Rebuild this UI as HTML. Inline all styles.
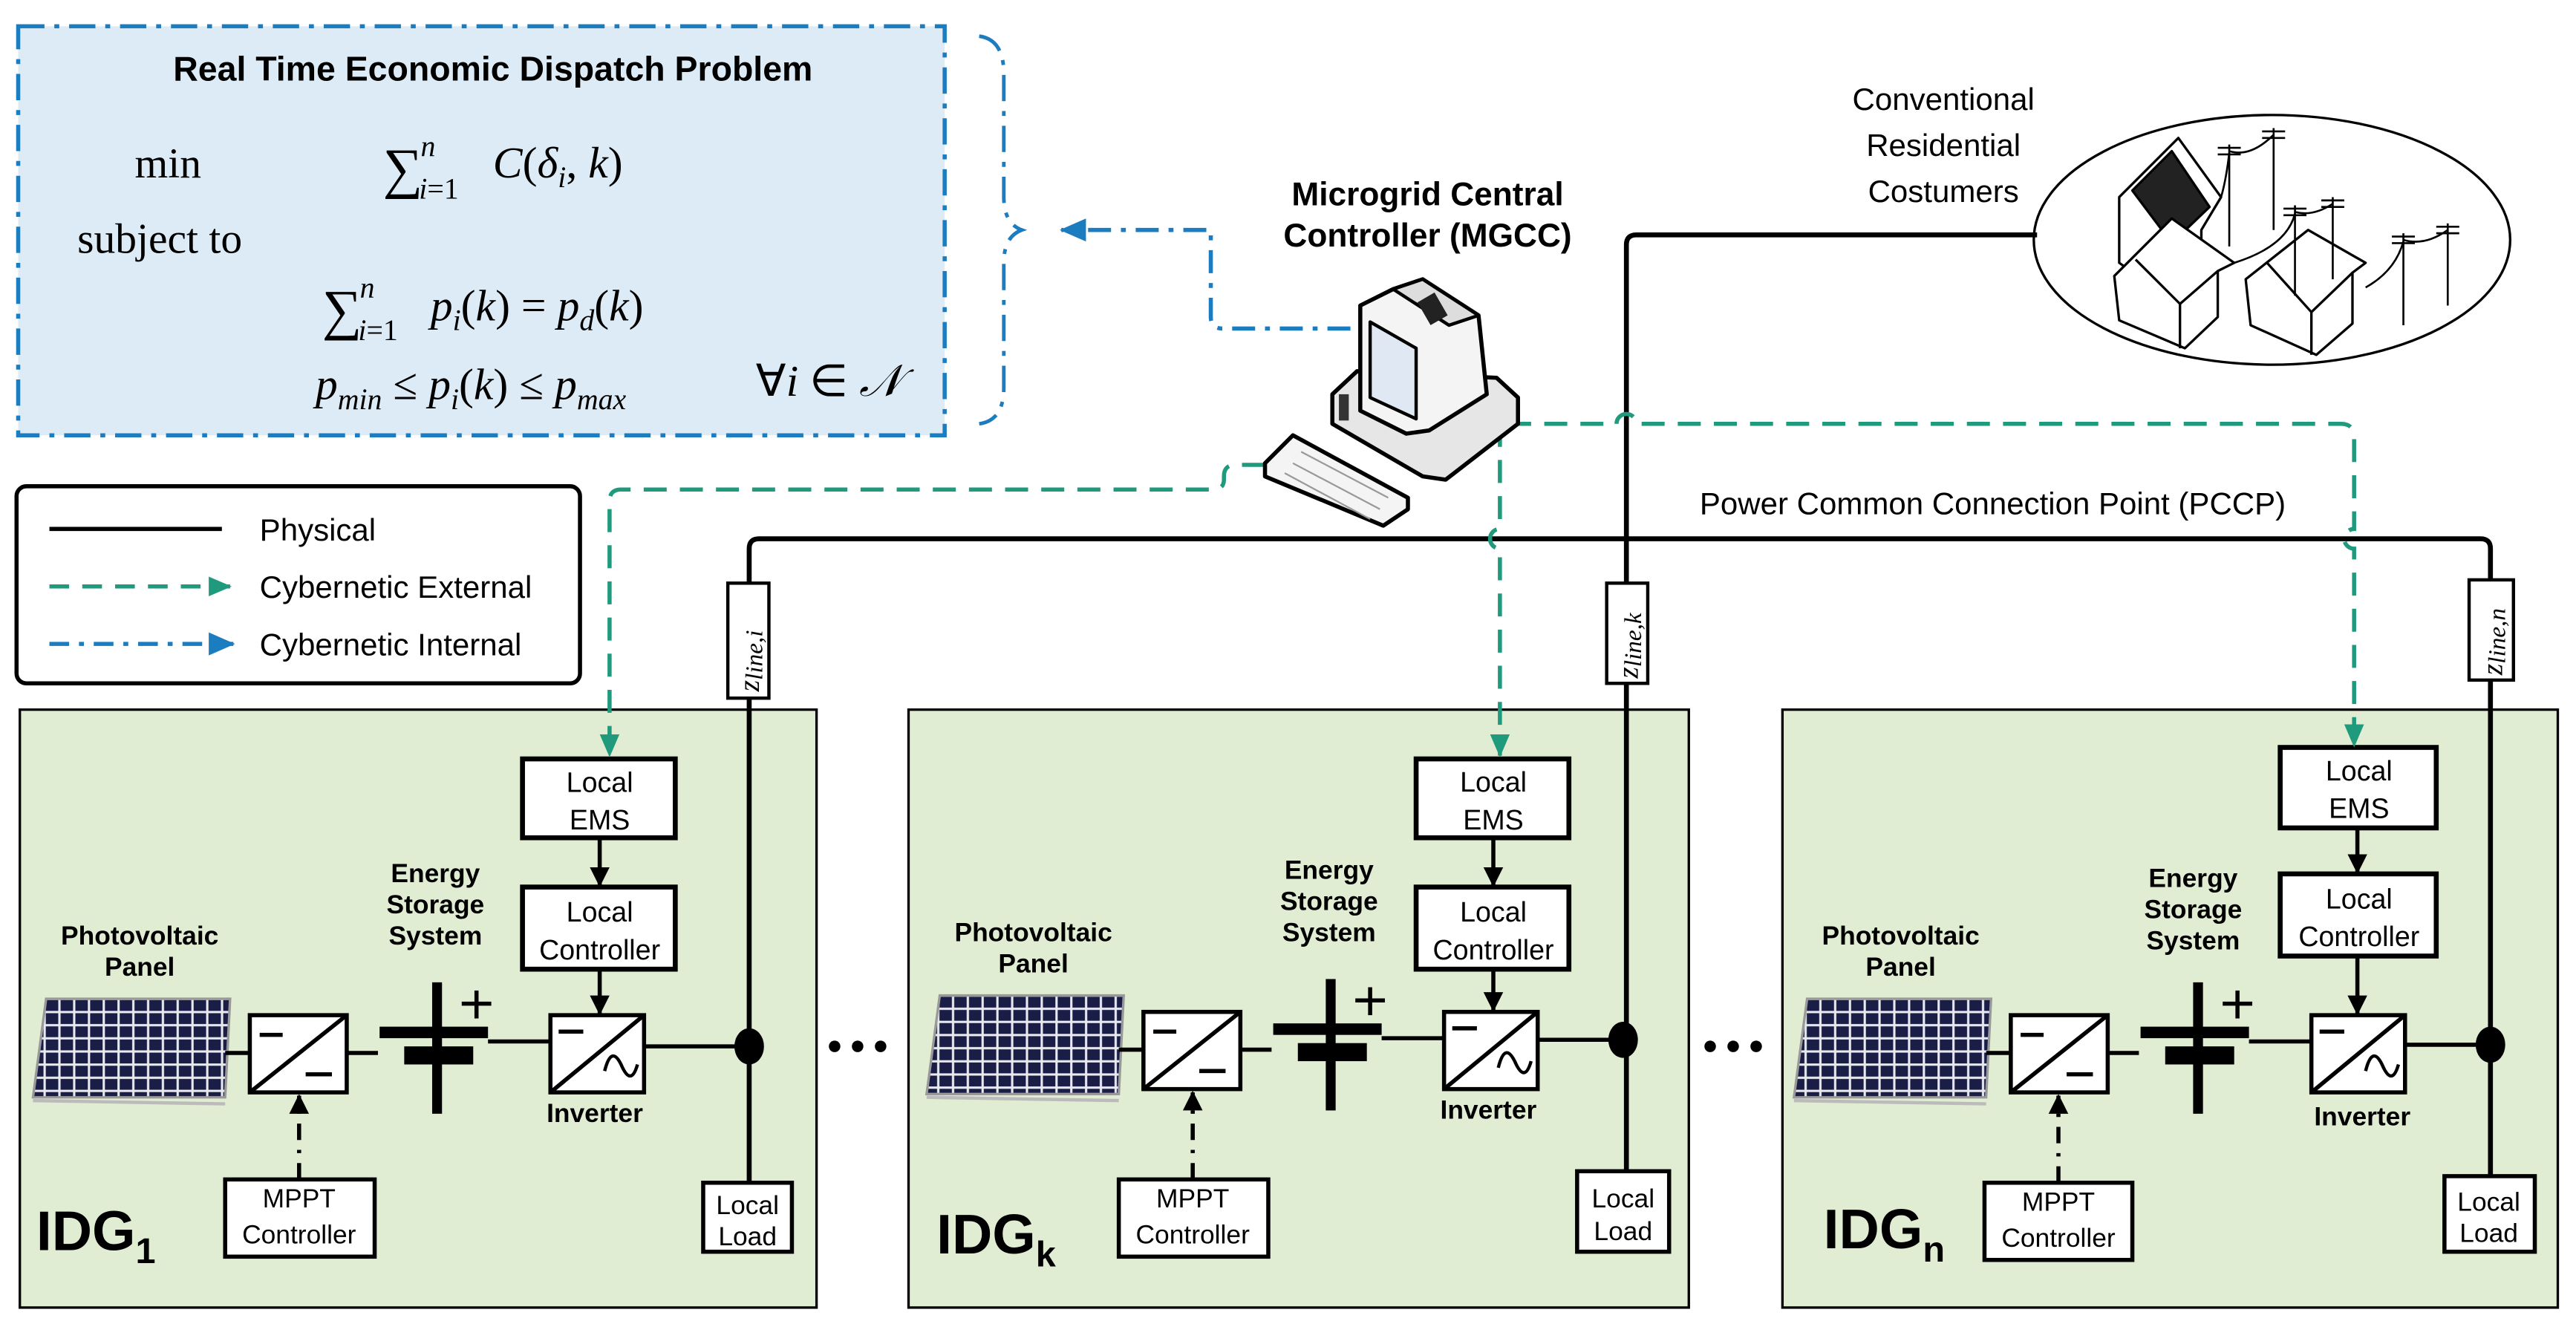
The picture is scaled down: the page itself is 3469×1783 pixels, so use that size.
<!DOCTYPE html>
<html><head><meta charset="utf-8"><style>
html,body{margin:0;padding:0;background:#fff;}
svg{display:block;}
.s{font-family:"Liberation Sans",sans-serif;}
.b{font-family:"Liberation Sans",sans-serif;font-weight:bold;}
.m{font-family:"Liberation Serif",serif;}
.i{font-style:italic;}
</style></head><body>
<svg width="3469" height="1783" viewBox="0 0 1568 806" xmlns="http://www.w3.org/2000/svg">
<defs>
<marker id="ga" markerWidth="14" markerHeight="14" refX="13" refY="7" orient="auto" markerUnits="userSpaceOnUse"><path d="M0,1 L14,7 L0,13 z" fill="#1f9a7c"/></marker>
<marker id="ba" markerWidth="16" markerHeight="14" refX="15" refY="7" orient="auto" markerUnits="userSpaceOnUse"><path d="M0,0 L16,7 L0,14 z" fill="#1b7cc0"/></marker>
<marker id="ka" markerWidth="12" markerHeight="14" refX="11" refY="6" orient="auto" markerUnits="userSpaceOnUse"><path d="M0,0 L12,6 L0,12 z" fill="#000"/></marker>
<pattern id="pv" width="9" height="8" patternUnits="userSpaceOnUse"><rect width="9" height="8" fill="#e8eaf0"/><rect x="0.8" y="0.8" width="7.6" height="6.6" fill="#1a1d45"/></pattern>
</defs>

<!-- Blue problem box -->
<rect x="11" y="16" width="564" height="249" fill="#ddebf6" stroke="#1b7cc0" stroke-width="2.5" stroke-dasharray="16,6,3,6"/>
<text x="300" y="49" class="b" font-size="21" text-anchor="middle">Real Time Economic Dispatch Problem</text>
<text x="82" y="108" class="m" font-size="26">min</text>
<text x="47" y="154" class="m" font-size="26">subject to</text>
<g class="m i">
<text x="233" y="114" font-size="34" font-style="normal">∑</text>
<text x="256" y="95" font-size="18">n</text>
<text x="255" y="121" font-size="18">i<tspan font-style="normal">=1</tspan></text>
<text x="300" y="108" font-size="27">C<tspan font-style="normal">(</tspan>δ<tspan font-size="18" dy="6">i</tspan><tspan dy="-6" font-style="normal">, </tspan>k<tspan font-style="normal">)</tspan></text>
<text x="196" y="200" font-size="34" font-style="normal">∑</text>
<text x="219" y="181" font-size="18">n</text>
<text x="218" y="207" font-size="18">i<tspan font-style="normal">=1</tspan></text>
<text x="262" y="195" font-size="27">p<tspan font-size="18" dy="6">i</tspan><tspan dy="-6" font-style="normal">(</tspan>k<tspan font-style="normal">) = </tspan>p<tspan font-size="18" dy="6">d</tspan><tspan dy="-6" font-style="normal">(</tspan>k<tspan font-style="normal">)</tspan></text>
<text x="192" y="243" font-size="27">p<tspan font-size="18" dy="6">min</tspan><tspan dy="-6" font-style="normal"> ≤ </tspan>p<tspan font-size="18" dy="6">i</tspan><tspan dy="-6" font-style="normal">(</tspan>k<tspan font-style="normal">) ≤ </tspan>p<tspan font-size="18" dy="6">max</tspan></text>
<text x="460" y="241" font-size="27" font-style="normal">∀<tspan font-style="italic">i</tspan> ∈ <tspan font-style="italic">𝒩</tspan></text>
</g>

<!-- Brace -->
<path d="M596,22 Q611,24 611,45 L611,120 Q611,136 622,140 Q611,144 611,160 L611,236 Q611,256 596,258" fill="none" stroke="#1b7cc0" stroke-width="2.2" stroke-dasharray="16,6,3,6"/>
<path d="M822,200 L744,200 Q737,200 737,193 L737,140 L646,140" fill="none" stroke="#1b7cc0" stroke-width="2.5" stroke-dasharray="14,6,3,6" marker-end="url(#ba)"/>

<!-- Legend -->
<rect x="10" y="296" width="343" height="120" rx="6" fill="#fff" stroke="#000" stroke-width="2.5"/>
<line x1="30" y1="322" x2="135" y2="322" stroke="#000" stroke-width="2.5"/>
<line x1="30" y1="357" x2="140" y2="357" stroke="#1f9a7c" stroke-width="2.5" stroke-dasharray="12,8" marker-end="url(#ga)"/>
<line x1="30" y1="392" x2="142" y2="392" stroke="#1b7cc0" stroke-width="2.5" stroke-dasharray="12,6,3,6" marker-end="url(#ba)"/>
<text x="158" y="329" class="s" font-size="19">Physical</text>
<text x="158" y="364" class="s" font-size="19">Cybernetic External</text>
<text x="158" y="399" class="s" font-size="19">Cybernetic Internal</text>

<!-- MGCC label -->
<text x="869" y="125" class="b" font-size="20" text-anchor="middle">Microgrid Central</text>
<text x="869" y="150" class="b" font-size="20" text-anchor="middle">Controller (MGCC)</text>

<!-- Houses -->
<text x="1183" y="67" class="s" font-size="19" text-anchor="middle">Conventional</text>
<text x="1183" y="95" class="s" font-size="19" text-anchor="middle">Residential</text>
<text x="1183" y="123" class="s" font-size="19" text-anchor="middle">Costumers</text>
<ellipse cx="1383" cy="146" rx="145" ry="76" fill="#fff" stroke="#000" stroke-width="1.5"/>
<g fill="#fff" stroke="#000" stroke-width="1.5" stroke-linejoin="round">
<polygon points="1290,120 1326,84 1352,120 1340,140 1340,170 1318,180 1290,160"/>
<line x1="1318" y1="130" x2="1318" y2="180"/>
<polygon points="1298,116 1322,92 1345,126 1322,148" fill="#222"/>
<polygon points="1287,168 1322,133 1360,160 1350,165 1350,193 1330,212 1290,195"/>
<polyline points="1300,158 1327,185 1350,165" fill="none"/>
<line x1="1327" y1="185" x2="1327" y2="212"/>
<polygon points="1367,170 1405,140 1440,160 1432,166 1432,197 1410,216 1370,198"/>
<polyline points="1380,160 1407,190 1432,166" fill="none"/>
<line x1="1407" y1="190" x2="1407" y2="216"/>
</g>
<g stroke="#000" stroke-width="1.2" fill="none">
<line x1="1357" y1="88" x2="1357" y2="150"/><line x1="1384" y1="78" x2="1384" y2="140"/>
<line x1="1350" y1="90" x2="1364" y2="90"/><line x1="1350" y1="94" x2="1364" y2="94"/>
<line x1="1377" y1="80" x2="1391" y2="80"/><line x1="1377" y1="84" x2="1391" y2="84"/>
<path d="M1357,92 Q1370,96 1384,82 M1357,93 Q1355,110 1352,120"/>
<line x1="1397" y1="125" x2="1397" y2="180"/><line x1="1420" y1="120" x2="1420" y2="170"/>
<line x1="1390" y1="127" x2="1404" y2="127"/><line x1="1390" y1="131" x2="1404" y2="131"/>
<line x1="1413" y1="122" x2="1427" y2="122"/><line x1="1413" y1="126" x2="1427" y2="126"/>
<path d="M1397,129 Q1408,132 1420,124 M1397,130 Q1392,150 1360,160"/>
<line x1="1463" y1="142" x2="1463" y2="198"/><line x1="1490" y1="136" x2="1490" y2="186"/>
<line x1="1456" y1="144" x2="1470" y2="144"/><line x1="1456" y1="148" x2="1470" y2="148"/>
<line x1="1483" y1="138" x2="1497" y2="138"/><line x1="1483" y1="142" x2="1497" y2="142"/>
<path d="M1463,146 Q1476,150 1490,140 M1463,147 Q1458,165 1440,175"/>
</g>

<!-- Physical main lines -->
<path d="M1240,143 L996,143 Q990,143 990,149 L990,355" fill="none" stroke="#000" stroke-width="3"/>
<path d="M456,355 L456,334 Q456,328 462,328 L1510,328 Q1516,328 1516,334 L1516,353" fill="none" stroke="#000" stroke-width="3"/>
<text x="1213" y="313" class="s" font-size="19" text-anchor="middle">Power Common Connection Point (PCCP)</text>

<!-- IDG green boxes -->
<rect x="12" y="432" width="485" height="364" fill="#e1edd3" stroke="#000" stroke-width="1.5"/>
<rect x="553" y="432" width="475" height="364" fill="#e1edd3" stroke="#000" stroke-width="1.5"/>
<rect x="1085" y="432" width="472" height="364" fill="#e1edd3" stroke="#000" stroke-width="1.5"/>

<!-- Zline boxes & buses -->
<g stroke="#000" stroke-width="3" fill="none">
<line x1="456" y1="425" x2="456" y2="720"/>
<line x1="990" y1="416" x2="990" y2="713"/>
<line x1="1516" y1="414" x2="1516" y2="716"/>
</g>
<g fill="#fff" stroke="#000" stroke-width="2">
<rect x="443" y="355" width="25" height="70"/>
<rect x="978" y="355" width="25" height="61"/>
<rect x="1503" y="353" width="27" height="61"/>
</g>
<g class="m i" font-size="18">
<text transform="translate(462,421) rotate(-90)">z<tspan font-size="15" dy="2">line,i</tspan></text>
<text transform="translate(997,413) rotate(-90)">z<tspan font-size="15" dy="2">line,k</tspan></text>
<text transform="translate(1523,411) rotate(-90)">z<tspan font-size="15" dy="2">line,n</tspan></text>
</g>

<!-- Nodes, loads -->
<g fill="#000"><ellipse cx="456" cy="637" rx="9" ry="11"/><ellipse cx="988" cy="633" rx="9" ry="11"/><ellipse cx="1516" cy="636" rx="9" ry="11"/></g>
<g fill="#fff" stroke="#000" stroke-width="2.5">
<rect x="428" y="720" width="54" height="42"/><rect x="960" y="713" width="56" height="49"/><rect x="1488" y="716" width="55" height="46"/>
</g>
<g class="s" font-size="16" text-anchor="middle">
<text x="455" y="739">Local</text><text x="455" y="758">Load</text>
<text x="988" y="735">Local</text><text x="988" y="755">Load</text>
<text x="1515" y="737">Local</text><text x="1515" y="756">Load</text>
</g>
<g stroke="#000" stroke-width="2.5">
<line x1="392" y1="637" x2="456" y2="637"/><line x1="936" y1="633" x2="988" y2="633"/><line x1="1464" y1="636" x2="1516" y2="636"/>
</g>
<g fill="#000"><circle cx="508" cy="637" r="3.5"/><circle cx="522" cy="637" r="3.5"/><circle cx="536" cy="637" r="3.5"/>
<circle cx="1041" cy="637" r="3.5"/><circle cx="1055" cy="637" r="3.5"/><circle cx="1069" cy="637" r="3.5"/></g>

<!-- IDG1 -->
<g>
<text x="85" y="575" class="b" font-size="16" text-anchor="middle">Photovoltaic</text>
<text x="85" y="594" class="b" font-size="16" text-anchor="middle">Panel</text>
<polygon points="28,608 140,608 137,668 20,668" fill="url(#pv)" stroke="#999" stroke-width="1.5"/>
<line x1="20" y1="670" x2="137" y2="672" stroke="#bbb" stroke-width="2"/>
<g stroke="#000" stroke-width="2.5" fill="none">
<line x1="137" y1="641" x2="152" y2="641"/><line x1="211" y1="641" x2="230" y2="641"/><line x1="297" y1="634" x2="335" y2="634"/>
<rect x="152" y="618" width="59" height="47" fill="#fff"/><line x1="152" y1="665" x2="211" y2="618"/>
<line x1="158" y1="630" x2="172" y2="630"/><line x1="186" y1="654" x2="202" y2="654"/>
<rect x="335" y="618" width="57" height="47" fill="#fff"/><line x1="335" y1="665" x2="392" y2="618"/>
<line x1="340" y1="628" x2="355" y2="628"/>
<path d="M368,652 Q372,636 378,648 Q384,662 388,648" stroke-width="2"/>
<line x1="290" y1="603" x2="290" y2="620"/><line x1="281" y1="611" x2="299" y2="611"/>
</g>
<rect x="263" y="598" width="6" height="80" fill="#000"/>
<rect x="231" y="625" width="66" height="7" fill="#000"/>
<rect x="246" y="637" width="42" height="11" fill="#000"/>
<text x="265" y="537" class="b" font-size="16" text-anchor="middle">Energy</text>
<text x="265" y="556" class="b" font-size="16" text-anchor="middle">Storage</text>
<text x="265" y="575" class="b" font-size="16" text-anchor="middle">System</text>
<text x="362" y="683" class="b" font-size="16" text-anchor="middle">Inverter</text>
<rect x="318" y="462" width="93" height="48" fill="#fff" stroke="#000" stroke-width="3"/>
<text x="365" y="482" class="s" font-size="17" text-anchor="middle">Local</text>
<text x="365" y="505" class="s" font-size="17" text-anchor="middle">EMS</text>
<rect x="318" y="540" width="93" height="50" fill="#fff" stroke="#000" stroke-width="3"/>
<text x="365" y="561" class="s" font-size="17" text-anchor="middle">Local</text>
<text x="365" y="584" class="s" font-size="17" text-anchor="middle">Controller</text>
<line x1="365" y1="510" x2="365" y2="539" stroke="#000" stroke-width="2.5" marker-end="url(#ka)"/>
<line x1="365" y1="590" x2="365" y2="617" stroke="#000" stroke-width="2.5" marker-end="url(#ka)"/>
<rect x="137" y="718" width="91" height="47" fill="#fff" stroke="#000" stroke-width="2.5"/>
<text x="182" y="735" class="s" font-size="16" text-anchor="middle">MPPT</text>
<text x="182" y="757" class="s" font-size="16" text-anchor="middle">Controller</text>
<line x1="182" y1="718" x2="182" y2="667" stroke="#000" stroke-width="2.5" stroke-dasharray="10,6,2,6" marker-end="url(#ka)"/>
</g>
<text x="22" y="761" class="b" font-size="34">IDG<tspan font-size="22" dy="8">1</tspan></text>

<!-- IDGk -->
<g transform="translate(544,-2)">
<text x="85" y="575" class="b" font-size="16" text-anchor="middle">Photovoltaic</text>
<text x="85" y="594" class="b" font-size="16" text-anchor="middle">Panel</text>
<polygon points="28,608 140,608 137,668 20,668" fill="url(#pv)" stroke="#999" stroke-width="1.5"/>
<line x1="20" y1="670" x2="137" y2="672" stroke="#bbb" stroke-width="2"/>
<g stroke="#000" stroke-width="2.5" fill="none">
<line x1="137" y1="641" x2="152" y2="641"/><line x1="211" y1="641" x2="230" y2="641"/><line x1="297" y1="634" x2="335" y2="634"/>
<rect x="152" y="618" width="59" height="47" fill="#fff"/><line x1="152" y1="665" x2="211" y2="618"/>
<line x1="158" y1="630" x2="172" y2="630"/><line x1="186" y1="654" x2="202" y2="654"/>
<rect x="335" y="618" width="57" height="47" fill="#fff"/><line x1="335" y1="665" x2="392" y2="618"/>
<line x1="340" y1="628" x2="355" y2="628"/>
<path d="M368,652 Q372,636 378,648 Q384,662 388,648" stroke-width="2"/>
<line x1="290" y1="603" x2="290" y2="620"/><line x1="281" y1="611" x2="299" y2="611"/>
</g>
<rect x="263" y="598" width="6" height="80" fill="#000"/>
<rect x="231" y="625" width="66" height="7" fill="#000"/>
<rect x="246" y="637" width="42" height="11" fill="#000"/>
<text x="265" y="537" class="b" font-size="16" text-anchor="middle">Energy</text>
<text x="265" y="556" class="b" font-size="16" text-anchor="middle">Storage</text>
<text x="265" y="575" class="b" font-size="16" text-anchor="middle">System</text>
<text x="362" y="683" class="b" font-size="16" text-anchor="middle">Inverter</text>
<rect x="318" y="464" width="93" height="48" fill="#fff" stroke="#000" stroke-width="3"/>
<text x="365" y="484" class="s" font-size="17" text-anchor="middle">Local</text>
<text x="365" y="507" class="s" font-size="17" text-anchor="middle">EMS</text>
<rect x="318" y="542" width="93" height="50" fill="#fff" stroke="#000" stroke-width="3"/>
<text x="365" y="563" class="s" font-size="17" text-anchor="middle">Local</text>
<text x="365" y="586" class="s" font-size="17" text-anchor="middle">Controller</text>
<line x1="365" y1="512" x2="365" y2="541" stroke="#000" stroke-width="2.5" marker-end="url(#ka)"/>
<line x1="365" y1="592" x2="365" y2="617" stroke="#000" stroke-width="2.5" marker-end="url(#ka)"/>
<rect x="137" y="720" width="91" height="47" fill="#fff" stroke="#000" stroke-width="2.5"/>
<text x="182" y="737" class="s" font-size="16" text-anchor="middle">MPPT</text>
<text x="182" y="759" class="s" font-size="16" text-anchor="middle">Controller</text>
<line x1="182" y1="720" x2="182" y2="667" stroke="#000" stroke-width="2.5" stroke-dasharray="10,6,2,6" marker-end="url(#ka)"/>
</g>
<text x="570" y="763" class="b" font-size="34">IDG<tspan font-size="22" dy="8">k</tspan></text>

<!-- IDGn -->
<g transform="translate(1072,0)">
<text x="85" y="575" class="b" font-size="16" text-anchor="middle">Photovoltaic</text>
<text x="85" y="594" class="b" font-size="16" text-anchor="middle">Panel</text>
<polygon points="28,608 140,608 137,668 20,668" fill="url(#pv)" stroke="#999" stroke-width="1.5"/>
<line x1="20" y1="670" x2="137" y2="672" stroke="#bbb" stroke-width="2"/>
<g stroke="#000" stroke-width="2.5" fill="none">
<line x1="137" y1="641" x2="152" y2="641"/><line x1="211" y1="641" x2="230" y2="641"/><line x1="297" y1="634" x2="335" y2="634"/>
<rect x="152" y="618" width="59" height="47" fill="#fff"/><line x1="152" y1="665" x2="211" y2="618"/>
<line x1="158" y1="630" x2="172" y2="630"/><line x1="186" y1="654" x2="202" y2="654"/>
<rect x="335" y="618" width="57" height="47" fill="#fff"/><line x1="335" y1="665" x2="392" y2="618"/>
<line x1="340" y1="628" x2="355" y2="628"/>
<path d="M368,652 Q372,636 378,648 Q384,662 388,648" stroke-width="2"/>
<line x1="290" y1="603" x2="290" y2="620"/><line x1="281" y1="611" x2="299" y2="611"/>
</g>
<rect x="263" y="598" width="6" height="80" fill="#000"/>
<rect x="231" y="625" width="66" height="7" fill="#000"/>
<rect x="246" y="637" width="42" height="11" fill="#000"/>
<text x="263" y="540" class="b" font-size="16" text-anchor="middle">Energy</text>
<text x="263" y="559" class="b" font-size="16" text-anchor="middle">Storage</text>
<text x="263" y="578" class="b" font-size="16" text-anchor="middle">System</text>
<text x="366" y="685" class="b" font-size="16" text-anchor="middle">Inverter</text>
<rect x="316" y="455" width="95" height="49" fill="#fff" stroke="#000" stroke-width="3"/>
<text x="364" y="475" class="s" font-size="17" text-anchor="middle">Local</text>
<text x="364" y="498" class="s" font-size="17" text-anchor="middle">EMS</text>
<rect x="316" y="532" width="95" height="50" fill="#fff" stroke="#000" stroke-width="3"/>
<text x="364" y="553" class="s" font-size="17" text-anchor="middle">Local</text>
<text x="364" y="576" class="s" font-size="17" text-anchor="middle">Controller</text>
<line x1="363" y1="504" x2="363" y2="531" stroke="#000" stroke-width="2.5" marker-end="url(#ka)"/>
<line x1="363" y1="582" x2="363" y2="617" stroke="#000" stroke-width="2.5" marker-end="url(#ka)"/>
<rect x="136" y="720" width="90" height="47" fill="#fff" stroke="#000" stroke-width="2.5"/>
<text x="181" y="737" class="s" font-size="16" text-anchor="middle">MPPT</text>
<text x="181" y="759" class="s" font-size="16" text-anchor="middle">Controller</text>
<line x1="181" y1="720" x2="181" y2="667" stroke="#000" stroke-width="2.5" stroke-dasharray="10,6,2,6" marker-end="url(#ka)"/>
</g>
<text x="1110" y="760" class="b" font-size="34">IDG<tspan font-size="22" dy="8">n</tspan></text>

<!-- Green external lines -->
<g fill="none" stroke="#1f9a7c" stroke-width="2.5" stroke-dasharray="14,8">
<path d="M770,283 L752,283 Q745,283 745,290 L745,292 Q745,298 738,298 L378,298 Q371,298 371,305 L371,460" marker-end="url(#ga)"/>
<path d="M918,258 L984,258 A6,6 0 0 1 996,258 L1425,258 Q1433,258 1433,266 L1433,322 A6,6 0 0 0 1433,334 L1433,454" marker-end="url(#ga)"/>
<path d="M913,258 L913,322 A6,6 0 0 0 913,334 L913,460" marker-end="url(#ga)"/>
</g>

<!-- Computer -->
<g stroke="#000" stroke-width="2.5" stroke-linejoin="round">
<polygon points="811,240 826,226 911,230 924,242 924,258 880,292 866,290 811,258" fill="#e6e6e6"/>
<polygon points="828,186 848,176 866,170 900,192 905,240 870,262 856,264 828,250" fill="#f4f4f4"/>
<polygon points="848,176 866,170 900,192 882,198" fill="#ddd" stroke-width="2"/>
<polygon points="834,196 862,212 862,255 834,242" fill="#dfe8f3" stroke-width="2"/>
<polygon points="770,282 787,265 857,303 857,310 842,320 770,290" fill="#f4f4f4"/>
</g>
<g stroke="#999" stroke-width="1">
<line x1="792" y1="275" x2="845" y2="303"/><line x1="787" y1="282" x2="840" y2="310"/><line x1="782" y1="288" x2="834" y2="316"/>
</g>
<rect x="866" y="180" width="12" height="16" fill="#222" transform="rotate(-30 872 188)"/>
<rect x="815" y="240" width="6" height="16" fill="#333"/>
</svg>
</body></html>
